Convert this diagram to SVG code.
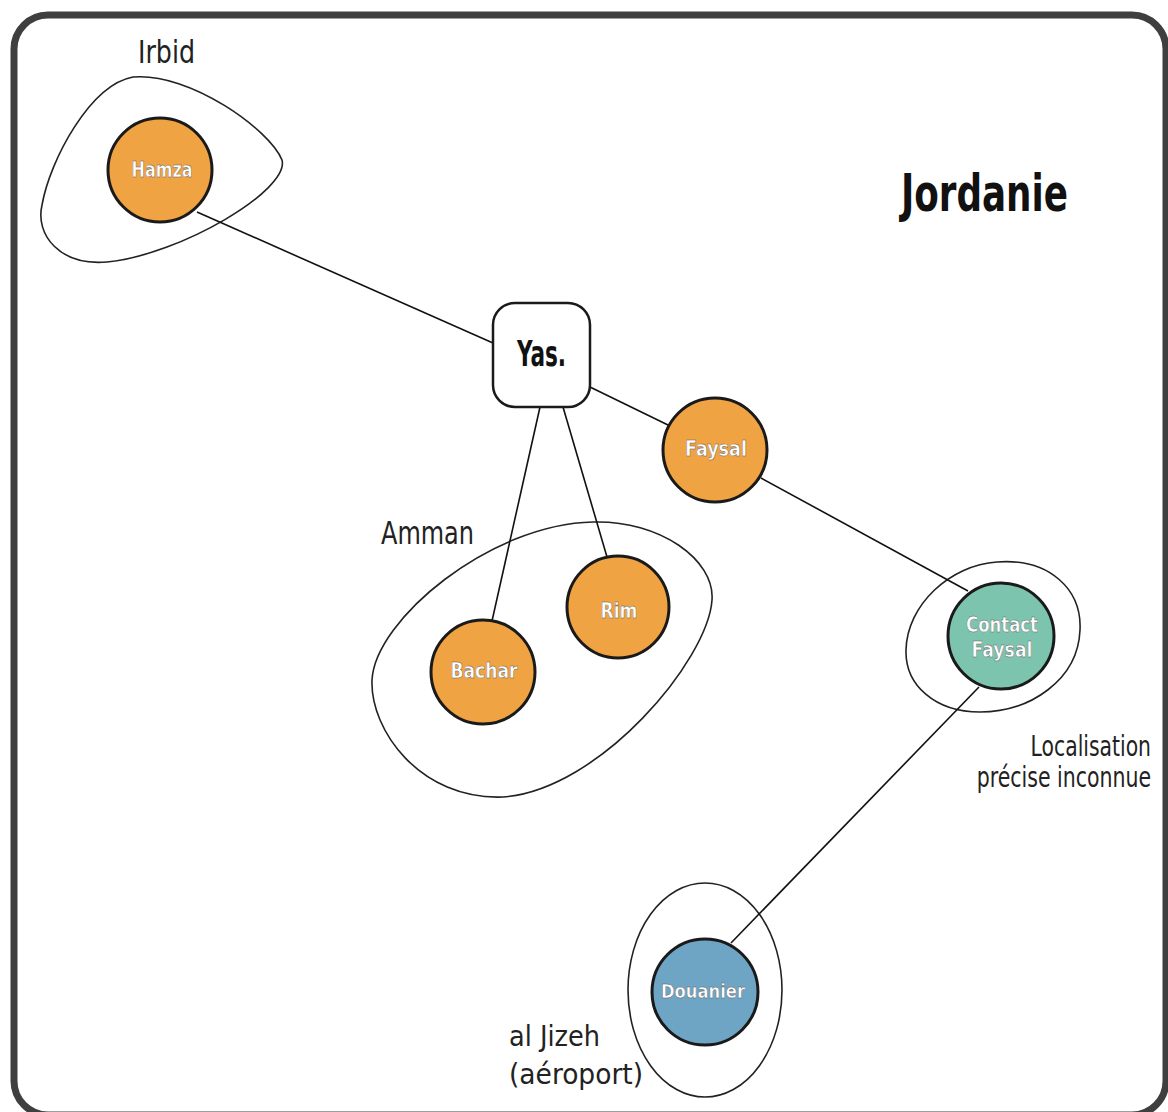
<svg xmlns="http://www.w3.org/2000/svg" width="1168" height="1112" viewBox="0 0 1168 1112">
<style>
.frame{fill:#fff;stroke:#3f3f3f;stroke-width:7}
.zone{fill:none;stroke:#222;stroke-width:1.6}
.edge{stroke:#111;stroke-width:1.6;fill:none}
.circ{stroke:#1a1a1a;stroke-width:3}
.orange{fill:#f0a343}
.teal{fill:#7dc4ae}
.blue{fill:#6ea4c4}
.nl{font-family:"Liberation Sans Narrow","DejaVu Sans Condensed","DejaVu Sans",sans-serif;font-stretch:condensed;font-weight:bold;fill:#fff;text-anchor:middle;stroke:#555;stroke-width:0.4}
.lbl{font-family:"Liberation Sans Narrow","DejaVu Sans Condensed","DejaVu Sans",sans-serif;font-stretch:condensed;fill:#222;font-weight:normal}
.ttl{font-family:"Liberation Sans Narrow","DejaVu Sans Condensed","DejaVu Sans",sans-serif;font-stretch:condensed;font-weight:bold;fill:#111}
</style>
<rect class="frame" x="14" y="15" width="1152" height="1100" rx="34"/>
<text class="ttl" x="901" y="211" font-size="52" textLength="167" lengthAdjust="spacingAndGlyphs">Jordanie</text>
<g id="zones">
<path id="zone-irbid" class="zone" d="M133,77 C190,72 270,130 282,160 C290,190 180,255 107,262 C60,266 35,235 42,205 C50,160 90,85 133,77 Z"/>
<path id="zone-amman" class="zone" d="M593,522 C660,520 715,560 712,600 C708,660 600,790 503,797 C420,800 370,730 372,680 C375,620 490,524 593,522 Z"/>
<path id="zone-contact" class="zone" d="M997,562 C1050,558 1082,590 1080,630 C1078,680 1030,712 980,712 C935,712 905,685 906,650 C907,605 950,565 997,562 Z"/>
<ellipse id="zone-jizeh" class="zone" cx="705" cy="990" rx="77" ry="107"/>
</g>
<g id="zone-labels">
<text class="lbl" x="138" y="63" font-size="32" textLength="57" lengthAdjust="spacingAndGlyphs">Irbid</text>
<text class="lbl" x="381" y="544" font-size="32" textLength="93" lengthAdjust="spacingAndGlyphs">Amman</text>
<text class="lbl" transform="translate(1151,756) scale(0.78,1)" x="0" y="0" font-size="29" text-anchor="end">Localisation</text>
<text class="lbl" transform="translate(1151,787) scale(0.785,1)" x="0" y="0" font-size="29" text-anchor="end">précise inconnue</text>
<text class="lbl" x="509" y="1046" font-size="29" textLength="91" lengthAdjust="spacingAndGlyphs">al Jizeh</text>
<text class="lbl" x="509" y="1084" font-size="29" textLength="134" lengthAdjust="spacingAndGlyphs">(aéroport)</text>
</g>
<g id="connectors">
<line class="edge" x1="197" y1="212" x2="493" y2="343"/>
<line class="edge" x1="590" y1="387" x2="668" y2="425"/>
<line class="edge" x1="540" y1="407" x2="492" y2="621"/>
<line class="edge" x1="563" y1="407" x2="607" y2="557"/>
<line class="edge" x1="761" y1="478" x2="968" y2="591"/>
<line class="edge" x1="979" y1="687" x2="731" y2="943"/>
</g>
<g id="node-yas">
<rect x="493" y="303" width="97" height="104" rx="22" fill="#fff" stroke="#1a1a1a" stroke-width="2.5"/>
<text class="ttl" x="517" y="366" font-size="36" textLength="49" lengthAdjust="spacingAndGlyphs">Yas.</text>
</g>
<g id="node-hamza">
<circle class="circ orange" cx="160" cy="170" r="52"/>
<text class="nl" x="162" y="177" font-size="22" textLength="61" lengthAdjust="spacingAndGlyphs">Hamza</text>
</g>
<g id="node-faysal">
<circle class="circ orange" cx="715" cy="450" r="52"/>
<text class="nl" x="716" y="456" font-size="22" textLength="62" lengthAdjust="spacingAndGlyphs">Faysal</text>
</g>
<g id="node-rim">
<circle class="circ orange" cx="618" cy="607" r="51"/>
<text class="nl" x="619" y="618" font-size="22" textLength="37" lengthAdjust="spacingAndGlyphs">Rim</text>
</g>
<g id="node-bachar">
<circle class="circ orange" cx="483" cy="672" r="52"/>
<text class="nl" x="484" y="678" font-size="22" textLength="67" lengthAdjust="spacingAndGlyphs">Bachar</text>
</g>
<g id="node-contact">
<circle class="circ teal" cx="1001" cy="636" r="53"/>
<text class="nl" x="1002" y="632" font-size="22" textLength="72" lengthAdjust="spacingAndGlyphs">Contact</text>
<text class="nl" x="1002" y="657" font-size="22" textLength="61" lengthAdjust="spacingAndGlyphs">Faysal</text>
</g>
<g id="node-douanier">
<circle class="circ blue" cx="705" cy="992" r="53"/>
<text class="nl" x="703" y="998" font-size="20" textLength="84" lengthAdjust="spacingAndGlyphs">Douanier</text>
</g>
</svg>
